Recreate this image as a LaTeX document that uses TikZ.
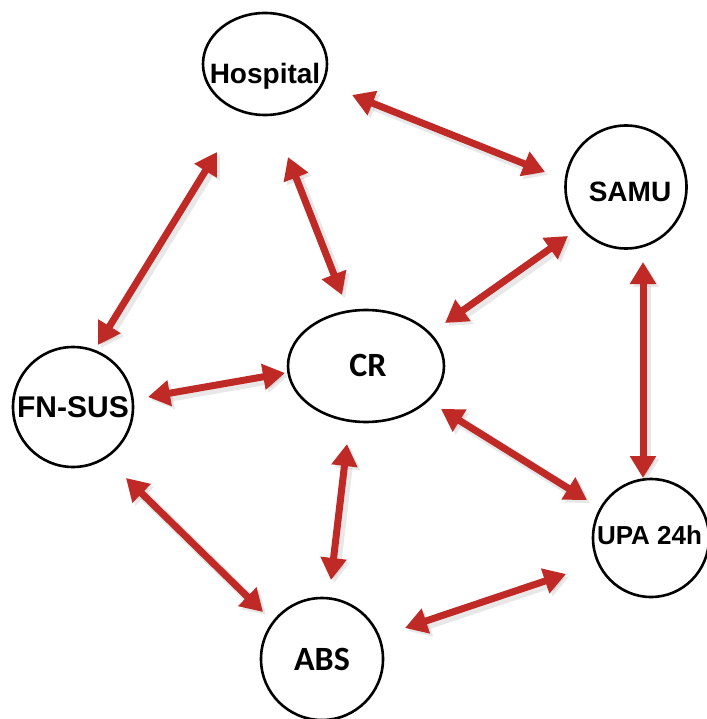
\documentclass[tikz,border=0pt]{standalone}
\usepackage{fontspec}
\setmainfont{Liberation Sans}
\newfontfamily\carlito{Carlito}
\usetikzlibrary{shapes.geometric,arrows.meta,calc}
\definecolor{arrred}{RGB}{192,42,38}
\begin{document}
\begin{tikzpicture}[x=1pt,y=-1pt,
  nd/.style={draw=black, line width=2.6pt, ellipse, inner sep=0pt, fill=white},
  lab/.style={font=\bfseries\fontsize{28}{28}\selectfont, text height=20pt, text depth=0pt, inner sep=0pt},
  labc/.style={font=\carlito\bfseries\fontsize{34}{34}\selectfont, text height=21.5pt, text depth=0pt, inner sep=0pt},
  arr/.style={draw=arrred, line width=7pt, {Triangle[length=22pt,width=25pt]}-{Triangle[length=22pt,width=25pt]},
    preaction={draw=black!50, opacity=0.18, line width=10pt, transform canvas={shift={(3pt,-3pt)}}}}
]
\useasboundingbox (0,0) rectangle (706,719);
\fill[white] (0,0) rectangle (706,719);

\node[nd, minimum width=124pt, minimum height=102pt, label={[lab, yshift=-10pt]center:Hospital}] (hosp) at (265,64) {};
\node[nd, minimum width=121pt, minimum height=123pt, label={[lab, xshift=4pt, yshift=-4pt]center:SAMU}] (samu) at (626,187) {};
\node[nd, minimum width=156pt, minimum height=112pt, label={[labc, xshift=2pt]center:CR}] (cr) at (366,366) {};
\node[nd, minimum width=120pt, minimum height=120pt, label={[lab, font=\bfseries\fontsize{30}{30}\selectfont]center:FN-SUS}] (fn) at (73,407) {};
\node[nd, minimum width=116pt, minimum height=118pt, label={[lab, font=\bfseries\fontsize{26}{26}\selectfont, xshift=-1.5pt, yshift=4pt]center:UPA 24h}] (upa) at (651,538) {};
\node[nd, minimum width=122pt, minimum height=122pt, label={[labc, yshift=-1pt]center:ABS}] (abs) at (322,659) {};

\draw[arr] ($(hosp)+(87,31)$) -- ($(samu)+(-81,-15)$);
\draw[arr] ($(hosp)+(-48,88)$) -- ($(fn)+(25,-62)$);
\draw[arr] ($(hosp)+(23,93)$) -- ($(cr)+(-24,-71)$);
\draw[arr] ($(samu)+(-58,49)$) -- ($(cr)+(79,-43)$);
\draw[arr] ($(samu)+(17,75)$) -- ($(upa)+(-8,-60)$);
\draw[arr] ($(cr)+(-81,7)$) -- ($(fn)+(75,-10)$);
\draw[arr] ($(cr)+(75,43)$) -- ($(upa)+(-64,-38)$);
\draw[arr] ($(cr)+(-19,78)$) -- ($(abs)+(9,-79)$);
\draw[arr] ($(fn)+(53,71)$) -- ($(abs)+(-59,-47)$);
\draw[arr] ($(abs)+(83,-31)$) -- ($(upa)+(-85,36)$);
\end{tikzpicture}
\end{document}
